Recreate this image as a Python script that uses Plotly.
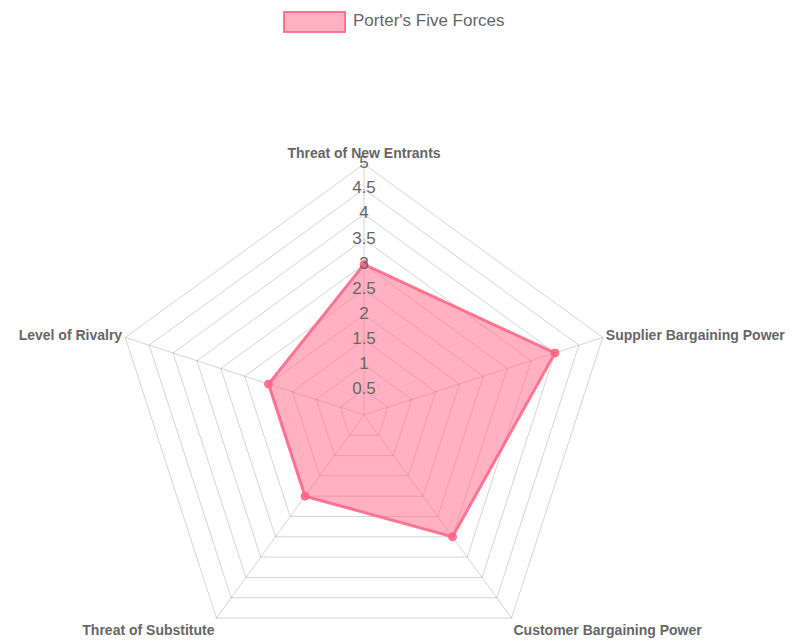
import plotly.graph_objects as go

categories = ["Threat of New Entrants", "Supplier Bargaining Power",
              "Customer Bargaining Power", "Threat of Substitute", "Level of Rivalry"]
values = [3, 4, 3, 2, 2]
series_name = "Porter's Five Forces"
tick_values = [0.5, 1, 1.5, 2, 2.5, 3, 3.5, 4, 4.5, 5]
tick_labels = ["0.5", "1", "1.5", "2", "2.5", "3", "3.5", "4", "4.5", "5"]

W, H = 798, 666
OFF = 8  # page body margin
CX, CY, R = 364 - OFF, 415 - OFF, 251  # pixel center / radius of chart area

PINK = "rgb(255,99,132)"
PINK_LINE = "rgba(255,99,132,0.85)"
PINK_FILL = "rgba(255,99,132,0.5)"
GRID = "rgba(0,0,0,0.17)"
FONT = "Liberation Sans, Arial, sans-serif"

fig = go.Figure()
fig.add_trace(go.Scatterpolar(
    r=values + [values[0]], theta=categories + [categories[0]],
    mode="lines", fill="toself", fillcolor=PINK_FILL,
    line=dict(color=PINK_LINE, width=3), name=series_name, showlegend=False,
    hoverinfo="skip"))
fig.add_trace(go.Scatterpolar(
    r=values, theta=categories, mode="markers",
    marker=dict(color=PINK_LINE, size=8, line=dict(color=PINK_LINE, width=1)),
    showlegend=False, name=series_name))
fig.add_trace(go.Scatterpolar(
    r=tick_values, theta=[categories[0]] * len(tick_values), mode="text",
    text=tick_labels, textposition="middle center",
    textfont=dict(size=17, color="#666", family=FONT),
    showlegend=False, hoverinfo="skip"))

fig.update_layout(
    width=W, height=H, margin=dict(l=0, r=0, t=0, b=0),
    paper_bgcolor="white", showlegend=False,
    font=dict(family=FONT, color="#666"),
    polar=dict(
        domain=dict(x=[(CX - R) / W, (CX + R) / W], y=[(H - CY - R) / H, (H - CY + R) / H]),
        gridshape="linear", bgcolor="white",
        radialaxis=dict(range=[0, 5], dtick=0.5, showticklabels=False, ticks="",
                        showline=False, gridcolor=GRID, gridwidth=1),
        angularaxis=dict(direction="clockwise", rotation=90, ticks="",
                         gridcolor=GRID, linecolor=GRID, showline=True,
                         tickfont=dict(size=14, color="#666", family=FONT, weight="bold")),
    ),
    shapes=[dict(type="rect", xref="paper", yref="paper",
                 x0=(284 - OFF) / W, x1=(345 - OFF) / W,
                 y0=1 - (32 - OFF) / H, y1=1 - (12 - OFF) / H,
                 fillcolor=PINK_FILL, line=dict(color=PINK_LINE, width=2))],
    annotations=[dict(text=series_name, xref="paper", yref="paper",
                      x=(351 - OFF) / W, y=1 - (21 - OFF) / H, xanchor="left", yanchor="middle",
                      showarrow=False, font=dict(size=17, color="#666", family=FONT))],
)

fig.write_html("out.html")
